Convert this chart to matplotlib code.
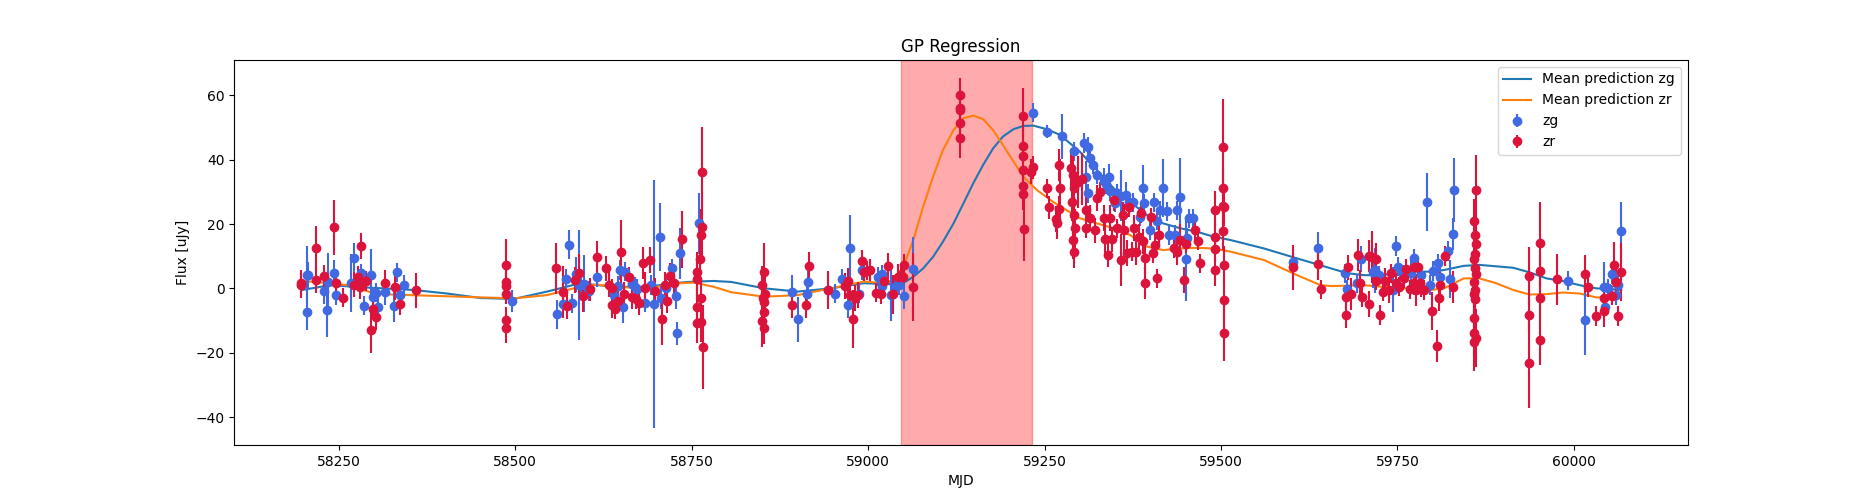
import matplotlib
matplotlib.use("Agg")
import matplotlib.pyplot as plt
import numpy as np

# zg photometry: mjd, flux, error
zg_mjd = [58205, 58205, 58207, 58229, 58233, 58234, 58243, 58246, 58267, 58271,
          58282, 58285, 58295, 58298, 58303, 58306, 58315, 58328, 58333, 58337,
          58343, 58495, 58559, 58567, 58572, 58576, 58581, 58586, 58590, 58593,
          58598, 58605, 58616, 58640, 58646, 58649, 58653, 58656, 58665, 58669,
          58673, 58684, 58692, 58697, 58705, 58706, 58714, 58722, 58728, 58729,
          58734, 58760, 58892, 58901, 58914, 58915, 58943, 58953, 58963, 58971,
          58974, 58987, 58992, 59014, 59019, 59020, 59032, 59038, 59044, 59051,
          59064, 59233, 59253, 59274, 59292, 59306, 59309, 59311, 59312, 59315,
          59319, 59324, 59334, 59337, 59342, 59343, 59350, 59352, 59359, 59366,
          59369, 59376, 59385, 59389, 59391, 59399, 59405, 59409, 59414, 59418,
          59423, 59427, 59435, 59437, 59442, 59450, 59452, 59455, 59461, 59602,
          59638, 59676, 59678, 59692, 59698, 59715, 59718, 59724, 59744, 59748,
          59751, 59758, 59769, 59773, 59783, 59792, 59796, 59800, 59807, 59810,
          59821, 59825, 59829, 59830, 59992, 60016, 60042, 60044, 60048, 60054,
          60059, 60062, 60067]
zg_flux = [-7.5, 4.1, 4.1, -0.8, -6.7, 2.0, 4.7, -2.1, 1.6, 9.5,
           4.7, -5.4, 4.1, -2.6, -1.3, -5.9, -1.2, -5.4, 5.0, -2.1,
           1.0, -3.9, -8.0, -4.9, 2.9, 13.5, -4.7, 4.4, 1.0, 1.0,
           1.5, -0.8, 3.5, -2.1, 0.7, 5.7, -5.9, 5.2, 1.3, 0.5,
           -0.2, -4.5, 1.0, -4.8, 15.9, -2.9, 0.0, 6.2, -2.4, -14.0,
           10.9, 20.2, -1.0, -9.6, -1.6, 2.1, -0.5, -1.6, 2.9, -5.2,
           12.7, -1.6, 5.7, 3.6, 4.4, 0.7, -2.1, 0.3, 1.0, -2.3,
           6.0, 54.6, 48.7, 47.3, 42.6, 45.2, 34.7, 44.0, 29.5, 40.6,
           38.5, 35.4, 33.4, 32.3, 34.6, 30.2, 26.6, 29.5, 28.8, 29.0,
           26.7, 26.7, 22.3, 31.3, 26.4, 18.0, 26.8, 21.0, 24.3, 31.1,
           24.0, 16.6, 16.6, 24.3, 28.5, 9.1, 15.7, 21.8, 21.8, 8.1,
           12.4, 4.7, -0.3, 1.6, 9.1, 5.2, 5.7, 4.1, -0.5, 13.2,
           6.7, 4.4, 4.7, 9.3, 4.1, 26.9, 1.0, 5.4, 7.8, 3.6,
           11.6, 2.9, 16.8, 30.6, 2.4, -9.8, 0.3, -5.7, 0.0, 4.5,
           -2.1, 1.0, 17.8]
zg_err = [5.5, 9, 4, 4, 8.5, 9, 4, 3, 9, 4.5,
          3, 3, 8, 3, 3, 3, 4, 5, 3, 3,
          3, 3.5, 4.5, 3, 3, 4.5, 3, 5.5, 17, 3,
          9, 3, 3, 3, 3, 3, 5, 3, 3, 3,
          3, 3, 3, 38.5, 10.6, 3.5, 3, 3, 4, 3.5,
          8, 9.5, 5, 7, 4, 4, 3, 3, 3, 4,
          10, 3, 3, 3, 3, 3, 8, 3, 3, 4,
          10, 3, 2, 7, 3, 3, 5, 3, 3, 3,
          3, 3, 4, 3, 4, 3, 3, 3, 8, 4,
          3, 3, 3, 7, 3, 3, 3, 3, 3, 9,
          3, 3, 3, 3, 12, 13, 3, 3, 3, 3,
          5, 3, 3, 3, 4, 5, 7, 3, 7, 3,
          3, 3, 5, 3, 3, 9, 3, 3, 3, 3,
          3, 6, 5, 10, 3, 11, 8, 3, 3, 3,
          3, 3, 9]

# zr photometry: mjd, flux, error
zr_mjd = [58196, 58196, 58217, 58217, 58229, 58243, 58246, 58256, 58271, 58277,
          58280, 58282, 58289, 58295, 58298, 58303, 58315, 58329, 58336, 58360,
          58487, 58487, 58487, 58487, 58487, 58487, 58558, 58568, 58573, 58584,
          58590, 58596, 58606, 58616, 58628, 58633, 58637, 58637, 58642, 58645,
          58650, 58654, 58661, 58665, 58671, 58676, 58681, 58684, 58691, 58698,
          58708, 58712, 58715, 58719, 58725, 58736, 58764, 58765, 58763, 58762,
          58758, 58757, 58763, 58758, 58763, 58758, 58766, 58853, 58850, 58854,
          58851, 58853, 58852, 58849, 58852, 58892, 58912, 58916, 58943, 58967,
          58972, 58975, 58978, 58981, 58986, 58992, 58994, 58998, 59002, 59011,
          59018, 59023, 59028, 59035, 59042, 59046, 59050, 59051, 59064, 59130,
          59130, 59130, 59130, 59130, 59219, 59219, 59219, 59219, 59219, 59219,
          59221, 59231, 59233, 59253, 59256, 59266, 59267, 59270, 59270, 59272,
          59288, 59290, 59292, 59289, 59291, 59293, 59290, 59292, 59297, 59303,
          59308, 59308, 59315, 59321, 59324, 59328, 59334, 59336, 59340, 59343,
          59345, 59349, 59352, 59358, 59361, 59363, 59367, 59370, 59374, 59377,
          59380, 59384, 59386, 59389, 59392, 59393, 59401, 59404, 59406, 59409,
          59412, 59433, 59438, 59442, 59448, 59450, 59463, 59467, 59470, 59491,
          59491, 59491, 59491, 59503, 59503, 59503, 59504, 59503, 59504, 59504,
          59504, 59602, 59638, 59641, 59677, 59677, 59680, 59684, 59694, 59697,
          59700, 59709, 59710, 59714, 59720, 59720, 59725, 59730, 59733, 59738,
          59741, 59748, 59752, 59760, 59762, 59768, 59774, 59774, 59777, 59779,
          59782, 59784, 59787, 59799, 59806, 59809, 59810, 59817, 59829, 59861,
          59858, 59860, 59861, 59860, 59858, 59860, 59861, 59858, 59860, 59859,
          59860, 59858, 59858, 59862, 59858, 59936, 59936, 59936, 59952, 59952,
          59952, 59952, 59976, 60016, 60020, 60031, 60042, 60042, 60054, 60057,
          60060, 60062, 60067]
zr_flux = [1.0, 1.8, 12.4, 2.5, 3.8, 19.0, 1.6, -2.9, 1.2, 3.6,
           0.3, 13.2, 2.3, -13.0, -6.4, -9.0, 1.6, 0.3, -4.9, -0.6,
           7.3, 2.1, 0.7, -1.8, -9.8, -12.4, 6.2, -1.2, -5.4, 2.6,
           4.7, -2.3, -0.3, 9.7, 6.2, 1.2, 0.0, -5.2, -6.5, -3.9,
           11.2, -1.9, 3.6, -2.8, -3.4, -4.4, 7.8, 0.0, 8.8, -0.8,
           -9.6, 1.2, -3.8, 3.9, 1.8, 15.2, 36.1, 19.0, 16.6, 9.1,
           5.2, 2.9, -3.1, -5.7, -10.6, -10.9, -18.3, 5.0, 1.0, -1.6,
           -2.9, -4.1, -7.5, -10.2, -12.4, -5.2, -5.2, 6.9, -0.5, 0.7,
           2.4, -2.1, -9.5, -2.9, -2.1, 8.5, 5.2, 5.5, 5.7, -1.3,
           -1.9, 2.3, 7.0, -1.9, 3.6, 4.1, 3.6, 7.3, 0.3, 60.0,
           56.0, 55.4, 51.3, 46.9, 53.5, 44.2, 41.2, 36.8, 31.9, 29.3,
           18.4, 36.3, 37.6, 31.1, 25.2, 21.5, 20.2, 38.3, 24.7, 31.1,
           37.3, 35.2, 31.1, 26.9, 22.8, 18.7, 15.0, 11.4, 33.0, 34.0,
           24.4, 18.7, 21.8, 18.0, 28.0, 30.1, 21.8, 15.5, 10.5, 21.8,
           15.2, 27.5, 18.7, 8.8, 22.8, 18.1, 10.9, 25.3, 11.4, 18.7,
           11.4, 16.1, 23.3, 14.6, 9.4, 1.6, 22.1, 10.9, 13.5, 3.1,
           16.6, 12.4, 11.4, 15.0, 2.6, 13.9, 18.1, 14.8, 7.8, 24.4,
           16.1, 12.2, 5.7, 43.8, 31.1, 25.7, 25.4, 17.8, 7.3, -3.6,
           -14.0, 6.5, 7.5, -0.3, -8.3, -2.8, 6.5, -1.8, 10.4, 1.8,
           -2.8, 10.1, -4.9, 9.8, 9.0, 2.4, -8.3, -1.0, 2.3, -0.5,
           4.7, 1.8, 0.5, 3.1, 6.0, -0.3, 6.5, 1.8, -0.5, 6.5,
           1.8, 0.2, -0.5, -7.0, -17.9, -2.9, 1.0, 10.1, 0.5, 30.6,
           20.9, 16.6, 13.7, 10.7, 9.1, 6.2, 4.4, 2.1, -0.5, -1.6,
           -3.3, -9.3, -13.8, -15.5, -16.6, 3.8, -8.3, -23.3, 14.0, 5.4,
           -3.1, -15.9, 2.8, 4.5, 0.3, -8.6, -2.9, -6.9, -2.3, 7.3,
           2.1, -8.6, 5.0]
zr_err = [4, 4, 7, 4, 3.5, 8.5, 3, 3, 4, 3.5,
          3.5, 4, 3, 7, 3, 4, 4, 4, 3.5, 5.5,
          8, 4, 4, 3, 4, 4.5, 8, 8, 4, 4,
          6, 5, 3.5, 5, 4, 4, 3, 4, 3, 3.5,
          10, 4, 3, 3.5, 3, 4, 5, 5, 4, 4,
          8, 4, 4, 4, 4, 9, 14, 11, 8, 6,
          6, 6, 6, 6, 6, 6, 13, 9, 6, 5,
          4, 4, 4, 8, 5, 4, 4, 4.5, 6, 4,
          4, 4, 9, 4, 4, 3.5, 3, 3, 3.5, 3,
          3, 3, 4, 6, 4, 3, 3, 3.5, 10.6, 5.3,
          3, 3, 3, 6.5, 8.8, 5, 5, 5, 5, 5,
          10, 4, 3.5, 3, 3.5, 4, 5, 5, 4, 9,
          6, 6, 6, 6, 6, 6, 6, 5, 8, 8,
          4, 3, 4, 4, 4, 3, 4, 5, 4, 4,
          4, 3.5, 3, 8, 4, 8, 4, 3, 3, 4,
          4, 4, 3, 4, 5, 5, 3, 3, 4, 3,
          3, 3, 4, 5, 4, 3, 3, 3, 3, 6,
          5, 4, 5, 15, 7, 7, 6, 6, 6, 6,
          8.5, 7, 5, 3, 4, 4, 4, 5, 5, 4,
          3, 5, 4, 8, 5, 3, 3, 3, 4, 4,
          3, 3, 3, 3, 3, 3, 3, 4, 5, 3,
          3, 3, 3, 6, 5, 4, 4, 3, 5, 11,
          7, 7, 6, 6, 6, 6, 6, 6, 6, 6,
          6, 7, 7, 9, 9, 9, 5, 14, 13, 5,
          5, 8, 8, 6, 3, 3, 3, 5, 3, 7,
          4, 3, 9]

# GP mean predictions
pred_zg_mjd = [58198, 58238, 58285, 58332, 58356, 58403, 58451, 58498, 58545, 58592,
               58639, 58686, 58734, 58753, 58781, 58806, 58853, 58900, 58947, 58994,
               59042, 59050, 59064, 59078, 59092, 59106, 59121, 59135, 59149, 59163,
               59177, 59191, 59206, 59220, 59234, 59253, 59272, 59300, 59324, 59348,
               59371, 59395, 59418, 59442, 59466, 59489, 59514, 59561, 59608, 59656,
               59679, 59703, 59726, 59750, 59774, 59797, 59816, 59844, 59866, 59914,
               59937, 59961, 59984, 60008, 60032, 60055, 60067]
pred_zg = [-0.5, 1.0, 0.3, -0.2, -0.5, -1.6, -3.0, -3.3, -1.0, 1.6,
           0.5, 0.5, 1.8, 2.1, 2.3, 2.0, 0.0, -1.0, 0.0, 1.6,
           1.2, 1.7, 3.6, 6.2, 9.8, 14.5, 20.2, 26.4, 32.7, 38.4,
           43.5, 47.2, 49.5, 50.5, 50.6, 49.5, 47.7, 42.5, 36.8, 31.1,
           26.9, 22.8, 20.2, 18.7, 17.6, 16.1, 15.0, 12.4, 9.3, 6.2,
           4.7, 4.1, 4.1, 4.7, 5.2, 5.2, 5.7, 7.0, 7.3, 6.4,
           5.0, 3.1, 2.3, 1.0, 0.0, -0.3, -0.5]
pred_zr_mjd = [58198, 58238, 58262, 58295, 58323, 58380, 58451, 58498, 58545, 58592,
               58616, 58639, 58686, 58734, 58753, 58781, 58806, 58853, 58900, 58947,
               58994, 59027, 59036, 59050, 59064, 59078, 59092, 59106, 59121, 59135,
               59149, 59163, 59177, 59191, 59206, 59220, 59239, 59262, 59277, 59300,
               59324, 59348, 59371, 59395, 59418, 59442, 59466, 59489, 59514, 59561,
               59608, 59641, 59656, 59703, 59750, 59774, 59797, 59816, 59844, 59866,
               59890, 59914, 59937, 59961, 59984, 60008, 60032, 60055, 60067]
pred_zr = [2.3, 1.6, 1.0, -1.2, -1.9, -2.3, -2.8, -3.1, -2.1, 0.5,
           1.2, 0.5, 0.0, 1.6, 1.8, 0.5, -1.2, -2.6, -2.1, 0.0,
           2.1, 1.6, 3.0, 6.7, 15.0, 25.4, 34.7, 43.0, 49.2, 52.9,
           53.7, 52.6, 49.2, 44.6, 39.4, 34.7, 30.6, 26.9, 24.9, 21.8,
           20.2, 18.7, 16.6, 13.0, 11.9, 12.4, 12.6, 12.4, 11.4, 8.8,
           4.1, 1.0, 0.7, 1.0, 0.0, 0.0, -0.5, 0.0, 3.1, 3.1,
           1.6, -0.5, -1.9, -1.8, -1.3, -1.6, -2.8, -2.8, -2.6]

span = (59047, 59232)

fig, ax = plt.subplots(figsize=(18.75, 5), dpi=100)

ax.axvspan(span[0], span[1], color='red', alpha=0.33)
ax.plot(pred_zg_mjd, pred_zg, color='C0', label='Mean prediction zg')
ax.plot(pred_zr_mjd, pred_zr, color='C1', label='Mean prediction zr')
ax.errorbar(zg_mjd, zg_flux, yerr=zg_err, fmt='o', color='royalblue', label='zg')
ax.errorbar(zr_mjd, zr_flux, yerr=zr_err, fmt='o', color='crimson', label='zr')

ax.set_xlim(58102, 60161)
ax.set_ylim(-48.7, 71.0)
ax.set_title('GP Regression')
ax.set_xlabel('MJD')
ax.set_ylabel('Flux [uJy]')
ax.legend(loc='upper right')

fig.savefig('out.png')
